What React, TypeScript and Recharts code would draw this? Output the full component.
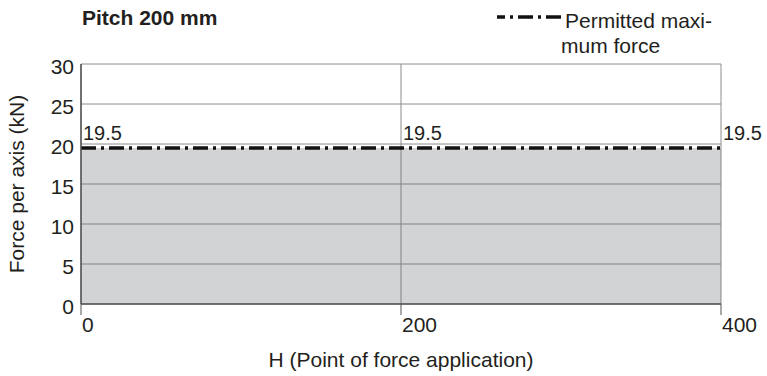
import React from 'react';
import { ComposedChart, Area, Line, XAxis, YAxis, CartesianGrid, LabelList } from 'recharts';

const positions = [0, 200, 400];
const permittedForce = [19.5, 19.5, 19.5];
const xTicks = [0, 200, 400];
const yTicks = [0, 5, 10, 15, 20, 25, 30];
const title = 'Pitch 200 mm';
const legendLines = ['Permitted maxi-', 'mum force'];
const xTitle = 'H (Point of force application)';
const yTitle = 'Force per axis (kN)';

const data = positions.map((h, i) => ({ h, force: permittedForce[i] }));

const FONT = '"Liberation Sans", Arial, sans-serif';
const TXT = '#231f20';
const DASH = '15 5 3 5';

const XTick = (props: any) => {
  const { x, y, payload } = props;
  return (
    <text x={x + 1} y={y} dy="0.71em" textAnchor="start" fontSize={21} fontFamily={FONT} fill={TXT}>
      {payload.value}
    </text>
  );
};

const YTick = (props: any) => {
  const { x, y, payload } = props;
  return (
    <text x={x} y={y + 3} dy="0.355em" textAnchor="end" fontSize={21} fontFamily={FONT} fill={TXT}>
      {payload.value}
    </text>
  );
};

const ValueLabel = (props: any) => {
  const { x, y, value } = props;
  return (
    <text x={x + 2} y={y - 8} textAnchor="start" fontSize={20} fontFamily={FONT} fill={TXT}>
      {value}
    </text>
  );
};

const XTitle = (props: any) => {
  const vb = props.viewBox;
  return (
    <text x={vb.x + vb.width / 2} y={vb.y + vb.height + 33} textAnchor="middle" fontSize={21} fontFamily={FONT} fill={TXT}>
      {xTitle}
    </text>
  );
};

const YTitle = (props: any) => {
  const vb = props.viewBox;
  const cx = 24;
  const cy = vb.y + vb.height / 2;
  return (
    <text x={cx} y={cy} transform={`rotate(-90, ${cx}, ${cy})`} textAnchor="middle" fontSize={21} fontFamily={FONT} fill={TXT}>
      {yTitle}
    </text>
  );
};

export default function App() {
  return (
    <div style={{ position: 'absolute', left: 0, top: 0, width: 767, height: 376, background: '#fff' }}>
      <ComposedChart width={767} height={376} data={data} margin={{ top: 64, right: 46, bottom: 42, left: 0 }}>
        <CartesianGrid stroke="#8c8c8c" strokeWidth={1} horizontalValues={yTicks} verticalValues={xTicks} fill="none" />
        <Area
          type="linear"
          dataKey="force"
          fill="#60676b"
          fillOpacity={0.29}
          stroke="none"
          isAnimationActive={false}
        />
        <XAxis
          dataKey="h"
          type="number"
          domain={[0, 400]}
          ticks={xTicks}
          height={30}
          tickSize={11}
          tickMargin={2}
          stroke="#555"
          tickLine={{ stroke: '#555' }}
          axisLine={{ stroke: '#555', strokeWidth: 1.5 }}
          tick={<XTick />}
          label={<XTitle />}
        />
        <YAxis
          type="number"
          domain={[0, 30]}
          ticks={yTicks}
          width={81}
          tickSize={0}
          tickMargin={7}
          tickLine={false}
          axisLine={{ stroke: '#555', strokeWidth: 1.5 }}
          tick={<YTick />}
          label={<YTitle />}
        />
        <Line
          type="linear"
          dataKey="force"
          stroke="#111"
          strokeWidth={3.5}
          strokeDasharray={DASH}
          dot={false}
          activeDot={false}
          isAnimationActive={false}
        >
          <LabelList dataKey="force" content={<ValueLabel />} />
        </Line>
      </ComposedChart>
      <svg width={767} height={70} style={{ position: 'absolute', left: 0, top: 0, pointerEvents: 'none' }}>
        <text x={82} y={25} fontSize={21} fontWeight="bold" fontFamily={FONT} fill={TXT}>
          {title}
        </text>
        <line x1={497} y1={17} x2={563} y2={17} stroke="#111" strokeWidth={3.5} strokeDasharray={DASH} strokeDashoffset={7} />
        <text x={565} y={28} fontSize={21} fontFamily={FONT} fill={TXT}>
          {legendLines[0]}
        </text>
        <text x={561} y={53} fontSize={21} fontFamily={FONT} fill={TXT}>
          {legendLines[1]}
        </text>
      </svg>
    </div>
  );
}
